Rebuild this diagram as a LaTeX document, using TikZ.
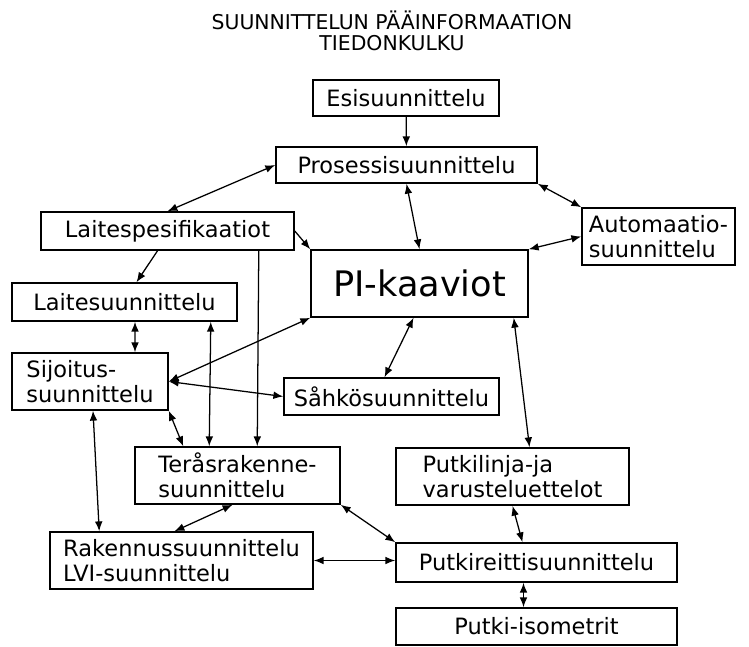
\documentclass[tikz,border=0pt]{standalone}
\usepackage{fontspec}
\setmainfont{DejaVu Sans}
\usetikzlibrary{arrows.meta,calc}

\begin{document}
\begin{tikzpicture}[x=0.025cm, y=-0.025cm,
    box/.style={draw, line width=1.1pt, inner sep=2pt, align=left,
        font=\fontsize{16}{18}\selectfont},
    size/.style 2 args={minimum width=#1*0.025cm, minimum height=#2*0.025cm},
    link/.style={line width=0.9pt, {Latex[length=7pt,width=5.5pt]}-{Latex[length=7pt,width=5.5pt]}},
    feed/.style={line width=0.9pt, -{Latex[length=7pt,width=5.5pt]}}]
    \useasboundingbox (0,0) rectangle (749,646);

    % Title
    \node (title) at (392,31) [align=center, font=\fontsize{14.5}{14.5}\selectfont]
        {SUUNNITTELUN PÄÄINFORMAATION\\TIEDONKULKU};

    % Boxes
    \node (esi) at (406,98) [box, size={186}{36}] {Esisuunnittelu};
    \node (pros) at (406.5,165) [box, size={261}{36}] {Prosessisuunnittelu};
    \node (lspec) at (167.5,231) [box, size={253}{38}] {Laitespesifikaatiot};
    \node (auto) at (658.5,236.5) [box, size={153}{57}] {Automaatio-\\suunnittelu};
    \node (pi) at (419.5,283.5) [box, size={217}{67}, font=\fontsize{25}{28}\selectfont] {PI-kaaviot};
    \node (lsuun) at (124.5,302) [box, size={225}{38}] {Laitesuunnittelu};
    \node (sijo) at (90,381.5) [box, size={156}{57}] {Sijoitus-\\suunnittelu};
    \node (sahko) at (391.5,396.5) [box, size={215}{37}] {Såhkösuunnittelu};
    \node (teras) at (237.5,475.5) [box, size={205}{57}] {Teråsrakenne-\\suunnittelu};
    \node (putkil) at (512.5,476.5) [box, size={233}{57}] {Putkilinja-ja\\varusteluettelot};
    \node (rak) at (181.5,560.5) [box, size={263}{57}] {Rakennussuunnittelu\\LVI-suunnittelu};
    \node (putkir) at (536.5,562.5) [box, size={281}{39}] {Putkireittisuunnittelu};
    \node (iso) at (536.5,626.5) [box, size={281}{37}] {Putki-isometrit};

    % Information flow
    \draw[feed] (esi) -- (pros);
    \draw[link] (pros.west) -- (lspec.north);
    \draw[link] (pros.south) -- (pi.north);
    \draw[link] (pros.south east) -- (auto.north west);
    \draw[feed] (lspec.east) -- (pi.north west);
    \draw[link] (auto.west) -- (pi.north east);
    \draw[feed] ($(lspec.south)+(-10,0)$) -- ($(lsuun.north)+(12,0)$);
    \draw[link] ($(lsuun.south)+(10.5,0)$) -- ($(sijo.north)+(45,0)$);
    \draw[link] (sijo.east) -- (pi.south west);
    \draw[link] (sijo.east) -- (sahko.west);
    \draw[link] ($(pi.south)+(-6,0)$) -- ($(sahko.north)+(-7,0)$);
    \draw[link] ($(pi.south east)+(-15,0)$) -- ($(putkil.north)+(17,0)$);
    \draw[link] ($(lsuun.south east)+(-27,0)$) -- ($(teras.north west)+(75,0)$);
    \draw[feed] ($(lspec.south east)+(-36,0)$) -- ($(teras.north west)+(123,0)$);
    \draw[link] (sijo.south east) -- ($(teras.north west)+(49,0)$);
    \draw[link] ($(sijo.south)+(3,0)$) -- ($(rak.north west)+(50,0)$);
    \draw[link] ($(teras.south)+(-5,0)$) -- ($(rak.north)+(-7,0)$);
    \draw[link] (teras.south east) -- (putkir.north west);
    \draw[link] (rak.east) -- (rak.east -| putkir.west);
    \draw[link] (putkil.south) -- ($(putkir.north)+(-14,0)$);
    \draw[link] ($(putkir.south)+(-13,0)$) -- ($(iso.north)+(-13,0)$);
\end{tikzpicture}
\end{document}
